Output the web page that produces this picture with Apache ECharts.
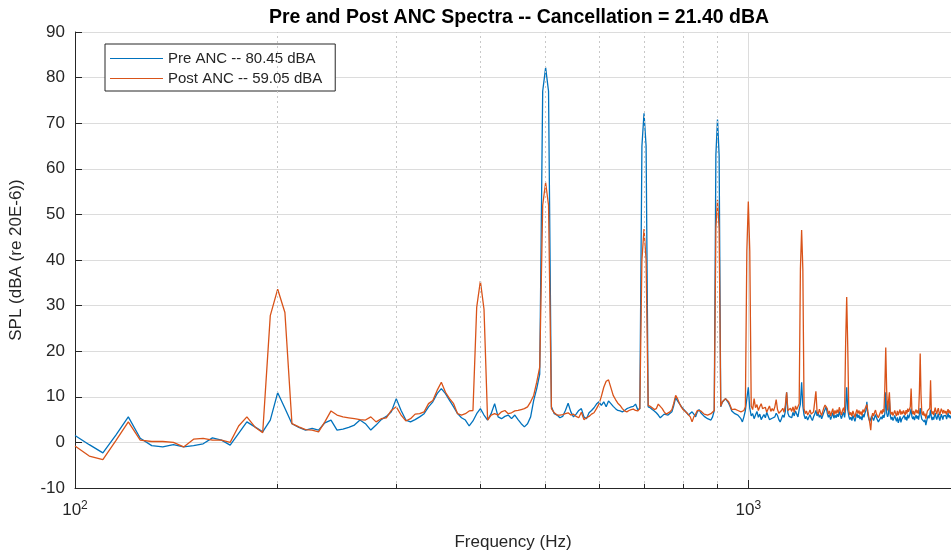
<!DOCTYPE html>
<html>
<head>
<meta charset="utf-8">
<title>Pre and Post ANC Spectra</title>
<script src="https://cdn.jsdelivr.net/npm/echarts@6/dist/echarts.min.js"></script>
<style>
  html, body { margin: 0; padding: 0; background: #fff; }
  #main { width: 951px; height: 556px; }
</style>
</head>
<body>
<div id="main"></div>
<script>
// frequency bins (Hz), 5 Hz resolution
var freqs = [
  100, 105, 110, 115, 120, 125, 130, 135, 140, 145,
  150, 155, 160, 165, 170, 175, 180, 185, 190, 195,
  200, 205, 210, 215, 220, 225, 230, 235, 240, 245,
  250, 255, 260, 265, 270, 275, 280, 285, 290, 295,
  300, 305, 310, 315, 320, 325, 330, 335, 340, 345,
  350, 355, 360, 365, 370, 375, 380, 385, 390, 395,
  400, 405, 410, 415, 420, 425, 430, 435, 440, 445,
  450, 455, 460, 465, 470, 475, 480, 485, 490, 495,
  500, 505, 510, 515, 520, 525, 530, 535, 540, 545,
  550, 555, 560, 565, 570, 575, 580, 585, 590, 595,
  600, 605, 610, 615, 620, 625, 630, 635, 640, 645,
  650, 655, 660, 665, 670, 675, 680, 685, 690, 695,
  700, 705, 710, 715, 720, 725, 730, 735, 740, 745,
  750, 755, 760, 765, 770, 775, 780, 785, 790, 795,
  800, 805, 810, 815, 820, 825, 830, 835, 840, 845,
  850, 855, 860, 865, 870, 875, 880, 885, 890, 895,
  900, 905, 910, 915, 920, 925, 930, 935, 940, 945,
  950, 955, 960, 965, 970, 975, 980, 985, 990, 995,
  1000, 1005, 1010, 1015, 1020, 1025, 1030, 1035, 1040, 1045,
  1050, 1055, 1060, 1065, 1070, 1075, 1080, 1085, 1090, 1095,
  1100, 1105, 1110, 1115, 1120, 1125, 1130, 1135, 1140, 1145,
  1150, 1155, 1160, 1165, 1170, 1175, 1180, 1185, 1190, 1195,
  1200, 1205, 1210, 1215, 1220, 1225, 1230, 1235, 1240, 1245,
  1250, 1255, 1260, 1265, 1270, 1275, 1280, 1285, 1290, 1295,
  1300, 1305, 1310, 1315, 1320, 1325, 1330, 1335, 1340, 1345,
  1350, 1355, 1360, 1365, 1370, 1375, 1380, 1385, 1390, 1395,
  1400, 1405, 1410, 1415, 1420, 1425, 1430, 1435, 1440, 1445,
  1450, 1455, 1460, 1465, 1470, 1475, 1480, 1485, 1490, 1495,
  1500, 1505, 1510, 1515, 1520, 1525, 1530, 1535, 1540, 1545,
  1550, 1555, 1560, 1565, 1570, 1575, 1580, 1585, 1590, 1595,
  1600, 1605, 1610, 1615, 1620, 1625, 1630, 1635, 1640, 1645,
  1650, 1655, 1660, 1665, 1670, 1675, 1680, 1685, 1690, 1695,
  1700, 1705, 1710, 1715, 1720, 1725, 1730, 1735, 1740, 1745,
  1750, 1755, 1760, 1765, 1770, 1775, 1780, 1785, 1790, 1795,
  1800, 1805, 1810, 1815, 1820, 1825, 1830, 1835, 1840, 1845,
  1850, 1855, 1860, 1865, 1870, 1875, 1880, 1885, 1890, 1895,
  1900, 1905, 1910, 1915, 1920, 1925, 1930, 1935, 1940, 1945,
  1950, 1955, 1960, 1965, 1970, 1975, 1980, 1985, 1990, 1995,
  2000
];

// Pre ANC spectrum, dBA
var preANC = [
  1.5, -0.5, -2.3, 1.6, 5.6, 0.9, -0.7, -1.0, -0.5, -1.0,
  -0.7, -0.3, 1.0, 0.5, -0.6, 2.0, 4.5, 3.4, 2.3, 4.9,
  10.9, 7.5, 4.1, 3.3, 2.7, 3.1, 2.7, 4.3, 4.9, 2.7,
  2.9, 3.3, 3.8, 4.9, 4.1, 2.7, 3.8, 5.0, 5.7, 6.7,
  9.6, 7.0, 4.9, 4.5, 5.0, 5.6, 6.3, 7.8, 8.9, 10.7,
  11.8, 10.7, 9.2, 7.8, 6.3, 5.4, 4.9, 3.6, 4.7, 6.3,
  7.4, 6.0, 4.9, 6.3, 8.5, 5.6, 5.2, 5.7, 6.0, 5.2,
  6.0, 5.0, 4.1, 3.4, 4.1, 5.6, 9.2, 11.8, 15.0, 77.0,
  82.2, 77.0, 7.8, 6.3, 6.0, 5.4, 5.7, 7.0, 8.6, 6.7,
  5.6, 6.2, 7.0, 7.4, 5.6, 5.2, 6.5, 7.0, 7.6, 8.4,
  8.9, 8.1, 8.9, 7.8, 9.1, 8.5, 7.9, 7.4, 7.0, 6.9,
  6.7, 7.0, 7.4, 7.6, 7.8, 7.9, 8.4, 7.2, 7.4, 65.0,
  72.2, 65.0, 7.8, 7.6, 7.2, 6.9, 6.5, 6.0, 5.4, 5.6,
  6.2, 6.2, 6.0, 6.3, 6.7, 8.1, 9.8, 9.1, 8.5, 7.9,
  7.4, 7.0, 6.5, 6.0, 6.3, 6.7, 6.2, 5.6, 6.7, 7.2,
  6.5, 6.2, 5.7, 5.4, 5.2, 5.2, 4.9, 5.6, 7.0, 63.0,
  70.8, 63.0, 7.8, 8.8, 9.1, 9.6, 9.2, 8.6, 7.8, 6.9,
  6.5, 6.3, 6.2, 6.0, 5.9, 5.2, 4.5, 5.6, 7.0, 9.6,
  12.1, 7.5, 5.8, 6.3, 5.2, 6.0, 6.8, 5.5, 6.2, 5.0,
  5.6, 6.1, 5.4, 6.6, 5.8, 5.0, 4.7, 5.3, 4.9, 5.6,
  6.4, 5.9, 5.0, 4.5, 5.2, 6.0, 5.5, 6.8, 11.0, 6.4,
  5.7, 6.0, 5.4, 6.6, 5.8, 6.9, 6.2, 5.6, 7.2, 8.4,
  13.2, 8.0, 6.0, 5.2, 5.7, 4.9, 5.5, 6.1, 5.3, 4.8,
  5.6, 6.2, 7.0, 5.8, 6.4, 5.5, 6.0, 5.2, 5.9, 6.6,
  7.2, 7.8, 6.4, 5.5, 6.1, 5.0, 5.7, 6.5, 5.3, 6.0,
  5.4, 6.2, 5.6, 6.8, 5.9, 5.2, 6.0, 6.7, 5.5, 7.4,
  12.1, 7.2, 5.8, 5.0, 5.5, 4.8, 5.9, 5.3, 4.6, 5.6,
  6.3, 5.4, 6.0, 5.1, 5.7, 4.9, 6.2, 5.5, 6.4, 7.0,
  8.9, 6.0, 5.2, 4.6, 5.0, 5.8, 5.3, 4.8, 5.5, 6.1,
  5.4, 5.0, 4.5, 4.1, 4.8, 5.6, 5.1, 6.0, 5.4, 6.3,
  11.0, 6.5, 5.6, 6.2, 9.5, 5.8, 5.0, 5.6, 4.8, 5.3,
  5.9, 5.2, 4.6, 5.5, 4.3, 4.9, 5.7, 4.4, 5.1, 4.7,
  5.4, 5.9, 5.0, 5.6, 4.8, 6.1, 5.3, 5.8, 6.5, 7.4,
  5.6, 5.1, 5.7, 4.9, 5.5, 6.0, 5.2, 5.8, 5.0, 6.2,
  7.5, 6.0, 5.1, 4.7, 5.3, 4.5, 5.0, 3.8, 4.6, 5.4,
  5.9, 5.3, 6.0, 7.2, 5.5, 4.9, 5.6, 5.0, 5.8, 6.4,
  5.5, 5.0, 5.7, 6.3, 5.4, 4.8, 5.5, 6.2, 5.6, 5.0,
  5.8, 6.2, 5.4, 5.9, 5.1, 5.7, 6.4, 5.5, 6.0, 5.3,
  5.8
];

// Post ANC spectrum, dBA
var postANC = [
  -0.8, -3.0, -3.8, 0.4, 4.5, 0.5, 0.2, 0.2, 0.0, -1.0,
  0.7, 0.9, 0.5, 0.5, 0.0, 3.6, 5.6, 3.4, 2.1, 27.8,
  33.6, 28.5, 4.1, 3.4, 2.8, 2.7, 2.3, 4.5, 6.9, 6.0,
  5.6, 5.4, 5.2, 5.0, 4.9, 5.6, 4.5, 5.2, 5.4, 7.0,
  7.8, 6.0, 4.7, 5.2, 6.2, 6.3, 6.7, 8.5, 9.2, 11.4,
  13.2, 11.0, 9.6, 8.5, 6.3, 6.0, 6.3, 6.9, 7.0, 29.6,
  35.4, 29.2, 4.9, 6.0, 6.3, 6.0, 6.7, 7.0, 6.3, 6.5,
  6.9, 7.0, 7.2, 7.4, 7.8, 8.9, 10.3, 13.2, 16.5, 52.0,
  57.0, 52.0, 7.4, 6.5, 6.0, 6.0, 6.1, 6.3, 6.5, 6.0,
  6.2, 5.7, 5.4, 6.6, 5.0, 5.4, 5.7, 6.2, 6.5, 7.4,
  8.4, 10.1, 12.1, 13.4, 13.7, 12.0, 10.3, 9.4, 8.6, 8.1,
  7.4, 6.9, 6.7, 7.0, 7.2, 7.3, 7.0, 6.9, 7.4, 40.0,
  46.8, 40.0, 8.1, 7.9, 7.6, 7.2, 7.4, 8.4, 8.1, 7.4,
  6.7, 6.2, 6.0, 6.7, 7.2, 8.6, 10.3, 9.6, 8.6, 7.8,
  7.2, 6.9, 6.5, 6.2, 5.6, 4.5, 5.6, 6.2, 7.0, 7.4,
  6.9, 6.5, 6.2, 6.0, 6.0, 6.2, 6.3, 6.6, 7.0, 47.0,
  53.2, 47.0, 7.9, 8.9, 9.2, 9.6, 9.4, 8.9, 8.1, 7.2,
  7.0, 7.3, 7.4, 7.0, 6.7, 6.7, 6.7, 7.0, 7.8, 42.0,
  52.8, 42.0, 8.0, 7.2, 9.6, 7.6, 8.3, 7.0, 7.8, 8.5,
  7.4, 7.0, 7.7, 6.6, 7.3, 8.0, 6.8, 7.4, 6.9, 7.8,
  9.4, 7.2, 6.4, 6.0, 7.0, 7.5, 6.6, 8.2, 11.0, 7.0,
  6.8, 7.5, 6.8, 7.8, 6.6, 8.0, 7.2, 6.9, 8.5, 38.0,
  46.6, 38.0, 7.4, 6.3, 6.9, 6.0, 6.5, 7.1, 6.2, 5.8,
  6.7, 7.0, 11.2, 6.8, 6.2, 7.3, 6.5, 5.9, 6.8, 7.6,
  8.2, 8.5, 7.4, 6.2, 6.9, 5.8, 6.6, 7.4, 6.0, 7.0,
  6.3, 7.2, 6.4, 7.7, 6.8, 6.0, 7.0, 7.6, 6.5, 22.0,
  31.9, 21.0, 7.0, 6.0, 6.6, 5.7, 6.9, 6.2, 5.5, 6.5,
  7.2, 6.3, 7.0, 6.1, 6.8, 5.9, 7.2, 6.6, 7.3, 7.8,
  8.3, 6.8, 5.6, 4.2, 2.7, 5.5, 6.4, 5.8, 6.6, 7.1,
  6.2, 6.0, 5.4, 5.8, 6.5, 7.0, 6.2, 7.3, 6.6, 12.0,
  20.8, 11.5, 7.0, 7.4, 11.0, 6.8, 6.1, 6.7, 5.9, 6.4,
  7.0, 6.3, 5.8, 6.9, 6.0, 6.6, 7.2, 6.1, 6.8, 6.2,
  7.0, 6.6, 6.0, 7.1, 6.3, 7.4, 6.7, 7.0, 7.8, 11.8,
  6.9, 6.2, 6.9, 6.0, 6.7, 7.2, 6.4, 7.0, 6.3, 11.0,
  19.5, 10.5, 6.5, 6.0, 6.8, 5.8, 6.3, 5.2, 6.1, 6.9,
  7.3, 6.6, 7.5, 13.6, 7.0, 6.2, 6.8, 6.0, 6.9, 7.6,
  6.7, 6.2, 7.0, 7.5, 6.6, 6.0, 6.8, 7.4, 6.9, 6.3,
  7.1, 7.0, 6.4, 6.9, 6.1, 6.7, 7.3, 6.5, 7.0, 6.2,
  6.8
];

// dotted minor grid lines of the log axis
var minorFreqs = [200, 300, 400, 500, 600, 700, 800, 900, 2000];

var seriesNames = ['Pre ANC -- 80.45 dBA', 'Post ANC -- 59.05 dBA'];
var textColor = '#262626';
var fontFam = 'Liberation Sans, Arial, sans-serif';

function pairs(vals) {
  return vals.map(function (v, i) { return [freqs[i], v]; });
}

var minorGrid = minorFreqs.map(function (f) {
  return [{ coord: [f, -10] }, { coord: [f, 90] }];
});
var minorTicks = minorFreqs.map(function (f) {
  return [{ coord: [f, -10] }, { coord: [f, -9.1] }];
});

var chart = echarts.init(document.getElementById('main'), null, { renderer: 'canvas' });

var option = {
  animation: false,
  backgroundColor: '#fff',
  textStyle: { fontFamily: fontFam, color: textColor },
  title: {
    text: 'Pre and Post ANC Spectra -- Cancellation = 21.40 dBA',
    left: 264,
    top: 3,
    textStyle: { fontFamily: fontFam, fontSize: 19.5, fontWeight: 'bold', color: '#000' }
  },
  legend: {
    data: seriesNames,
    orient: 'vertical',
    left: 105,
    top: 44,
    padding: [7, 13, 5, 5],
    itemGap: 5,
    itemWidth: 53,
    itemHeight: 16,
    icon: 'path://M0,7.4 L53,7.4 L53,8.6 L0,8.6 Z',
    borderColor: textColor,
    borderWidth: 1,
    borderRadius: 0,
    backgroundColor: '#fff',
    textStyle: { fontFamily: fontFam, fontSize: 15, color: textColor }
  },
  grid: { left: 73, top: 32, right: -8, bottom: 65, containLabel: false },
  xAxis: {
    type: 'log',
    logBase: 10,
    min: 100,
    max: 2000,
    name: 'Frequency (Hz)',
    nameLocation: 'middle',
    nameGap: 46,
    nameTextStyle: { fontFamily: fontFam, fontSize: 17, color: textColor },
    axisLine: { show: true, onZero: false, lineStyle: { color: textColor, width: 1 } },
    axisTick: { show: true, inside: true, length: 8, lineStyle: { color: textColor } },
    axisLabel: {
      margin: 12,
      showMaxLabel: false,
      color: textColor,
      fontFamily: fontFam,
      fontSize: 17,
      formatter: function (v) {
        var e = Math.round(Math.log10(v));
        if (Math.abs(Math.pow(10, e) - v) > 1e-6) return '';
        return '10{sup|' + e + '}';
      },
      rich: {
        sup: { fontSize: 12, fontFamily: fontFam, color: textColor, padding: [0, 0, 9, 0] }
      }
    },
    splitLine: { show: true, lineStyle: { color: '#dcdcdc', width: 1 } }
  },
  yAxis: {
    type: 'value',
    min: -10,
    max: 90,
    interval: 10,
    name: 'SPL (dBA (re 20E-6))',
    nameLocation: 'middle',
    nameGap: 50,
    nameTextStyle: { fontFamily: fontFam, fontSize: 17, color: textColor },
    axisLine: { show: true, lineStyle: { color: textColor, width: 1 } },
    axisTick: { show: true, inside: true, length: 7, lineStyle: { color: textColor } },
    axisLabel: { margin: 10, color: textColor, fontFamily: fontFam, fontSize: 17 },
    splitLine: { show: true, lineStyle: { color: '#dcdcdc', width: 1 } }
  },
  series: [
    {
      name: 'minor grid',
      type: 'line',
      data: [],
      silent: true,
      z: 1,
      markLine: {
        silent: true,
        symbol: ['none', 'none'],
        label: { show: false },
        emphasis: { disabled: true },
        animation: false,
        data: minorGrid.map(function (d) {
          return [Object.assign({ lineStyle: { color: '#c8c8c8', type: [2, 3], width: 1 } }, d[0]), d[1]];
        }).concat(minorTicks.map(function (d) {
          return [Object.assign({ lineStyle: { color: textColor, type: 'solid', width: 1 } }, d[0]), d[1]];
        }))
      }
    },
    {
      name: seriesNames[0],
      type: 'line',
      data: pairs(preANC),
      showSymbol: false,
      symbol: 'none',
      color: '#0072BD',
      lineStyle: { width: 1.3, color: '#0072BD' },
      z: 3
    },
    {
      name: seriesNames[1],
      type: 'line',
      data: pairs(postANC),
      showSymbol: false,
      symbol: 'none',
      color: '#D95319',
      lineStyle: { width: 1.3, color: '#D95319' },
      z: 4
    }
  ]
};

chart.setOption(option);
</script>
</body>
</html>
